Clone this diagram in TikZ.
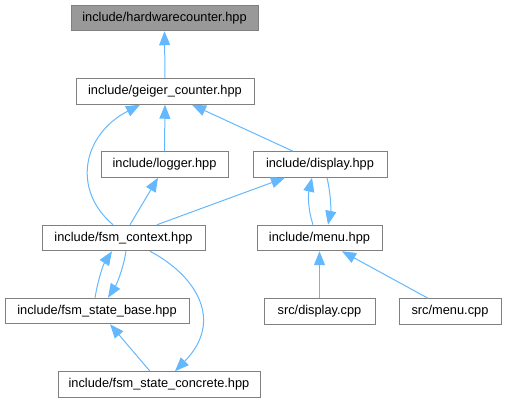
\documentclass[tikz,border=0pt]{standalone}
\usepackage{fontspec}
\setmainfont{Liberation Sans}
\usetikzlibrary{arrows.meta}
\definecolor{edgeblue}{HTML}{63B8FF}
\definecolor{boxgray}{HTML}{999999}
\definecolor{framegray}{HTML}{808080}

\begin{document}
\begin{tikzpicture}[
        x=1pt, y=-1pt,
        every node/.style={font=\fontsize{12.8}{15}\selectfont},
        file/.style={draw=framegray, line width=1pt, fill=white, inner sep=0pt, minimum height=25.5pt},
        current/.style={file, fill=boxgray},
        dep/.style={draw=edgeblue, line width=1pt, -{Triangle[length=14pt, width=11pt]}}
    ]
    \useasboundingbox (0,0) rectangle (507,403);

    % Headers
    \node[current, minimum width=187pt] (hw) at (164.5,18) {include/hardwarecounter.hpp};
    \node[file, minimum width=178pt] (geiger) at (165,91.5) {include/geiger\_counter.hpp};
    \node[file, minimum width=127pt] (logger) at (164.5,164.5) {include/logger.hpp};
    \node[file, minimum width=134pt] (display) at (320,164.5) {include/display.hpp};
    \node[file, minimum width=163pt] (ctx) at (123.5,238) {include/fsm\_context.hpp};
    \node[file, minimum width=125pt] (menu) at (319.5,238) {include/menu.hpp};
    \node[file, minimum width=184pt] (base) at (97,311) {include/fsm\_state\_base.hpp};
    \node[file, minimum width=202pt] (concrete) at (159,384.5) {include/fsm\_state\_concrete.hpp};

    % Sources
    \node[file, minimum width=111pt] (dispcpp) at (319.5,311.5) {src/display.cpp};
    \node[file, minimum width=102pt] (menucpp) at (450,311.5) {src/menu.cpp};

    % Include edges
    \draw[dep] (geiger.north) -- (hw.south);
    \draw[dep] (logger.north) -- (geiger.south);
    \draw[dep] ([xshift=-10.5]ctx.north) .. controls (72,190) and (82,135) .. ([xshift=-25]geiger.south);
    \draw[dep] ([xshift=-27]display.north) -- ([xshift=27]geiger.south);
    \draw[dep] ([xshift=6.5]ctx.north) -- ([xshift=-6.5]logger.south);
    \draw[dep] ([xshift=33.5]ctx.north) -- ([xshift=-35]display.south);
    \draw[dep] ([xshift=-6.5]menu.north) .. controls (308,210) and (308,195) .. ([xshift=-8]display.south);
    \draw[dep] ([xshift=7]display.south) .. controls (331,195) and (331,210) .. ([xshift=8.5]menu.north);
    \draw[dep] (dispcpp.north) -- (menu.south);
    \draw[dep] ([xshift=-22]menucpp.north) -- ([xshift=22.5]menu.south);
    \draw[dep] ([xshift=-2]base.north) .. controls (98,280) and (103,265) .. ([xshift=-11.5]ctx.south);
    \draw[dep] ([xshift=2.5]ctx.south) .. controls (124,265) and (118,282) .. ([xshift=11]base.north);
    \draw[dep] ([xshift=26.5]ctx.south) .. controls (195,275) and (225,320) .. ([xshift=16]concrete.north);
    \draw[dep] ([xshift=-9]concrete.north) -- ([xshift=13]base.south);

\end{tikzpicture}
\end{document}
